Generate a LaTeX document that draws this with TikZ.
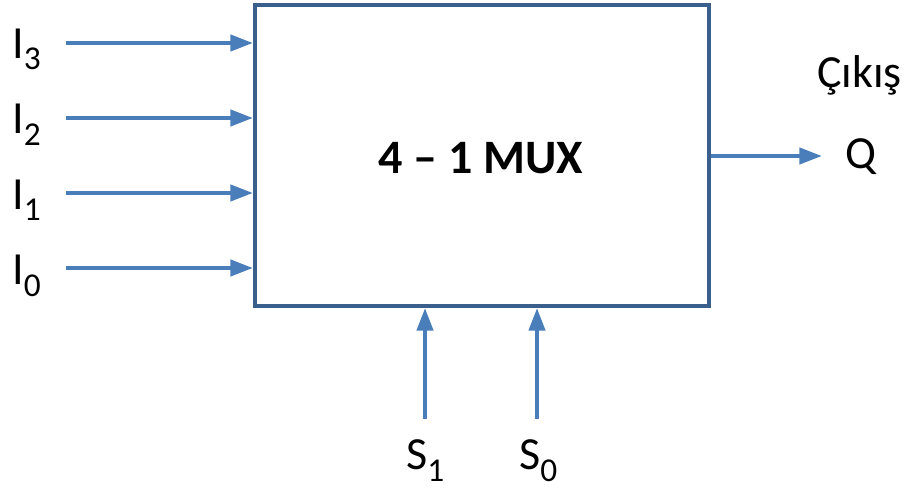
\documentclass[tikz,border=0pt]{standalone}
\usepackage{fontspec}
\setmainfont{Carlito}
\usepackage{tikz}
\usetikzlibrary{arrows.meta, positioning, calc}
\definecolor{boxline}{HTML}{3A5F8D}
\definecolor{sigline}{HTML}{4A7EBB}
\newcommand{\lowsub}[1]{\raisebox{-8.5pt}{\fontsize{25}{25}\selectfont #1}}

\begin{document}
\begin{tikzpicture}[
    x=0.75pt, y=-0.75pt,
    every node/.style={font=\fontsize{34.5}{34.5}\selectfont, inner sep=0pt},
    muxbox/.style={rectangle, draw=boxline, line width=3pt, minimum width=454*0.75pt, minimum height=301*0.75pt},
    sig/.style={-{Triangle[length=17pt, width=12pt]}, line width=3.2pt, sigline},
    lbl/.style={anchor=base west}
]
\useasboundingbox (0,0) rectangle (904,491);

% ============== MUX ==============
\node[muxbox] (mux) at (482,155.5) {};
\node[font=\fontsize{36}{36}\selectfont\bfseries] (title) at (481,158.5) {4 -- 1 MUX};

% ============== Girisler ==============
\node[lbl] (i3) at (12,58.5) {I\lowsub{3}};
\node[lbl] (i2) at (12,134) {I\lowsub{2}};
\node[lbl] (i1) at (12,209.5) {I\lowsub{1}};
\node[lbl] (i0) at (12,285) {I\lowsub{0}};
\coordinate (t3) at (66,43);
\coordinate (t2) at (66,118);
\coordinate (t1) at (66,193);
\coordinate (t0) at (66,268);

% ============== Cikis ==============
\node[lbl] (cikis) at (817,88) {Çıkış};
\node[lbl] (q) at (845,169) {Q};
\coordinate (qt) at (822,156);

% ============== Secme ==============
\node[lbl] (s1) at (406,470) {S\lowsub{1}};
\node[lbl] (s0) at (519,470) {S\lowsub{0}};
\coordinate (ts1) at (425,419);
\coordinate (ts0) at (537,419);

% ============== Baglantilar ==============
\draw[sig] (t3) -- (t3 -| mux.west);
\draw[sig] (t2) -- (t2 -| mux.west);
\draw[sig] (t1) -- (t1 -| mux.west);
\draw[sig] (t0) -- (t0 -| mux.west);
\draw[sig] (qt -| mux.east) -- (qt);
\draw[sig] (ts1) -- (ts1 |- mux.south);
\draw[sig] (ts0) -- (ts0 |- mux.south);
\end{tikzpicture}
\end{document}
